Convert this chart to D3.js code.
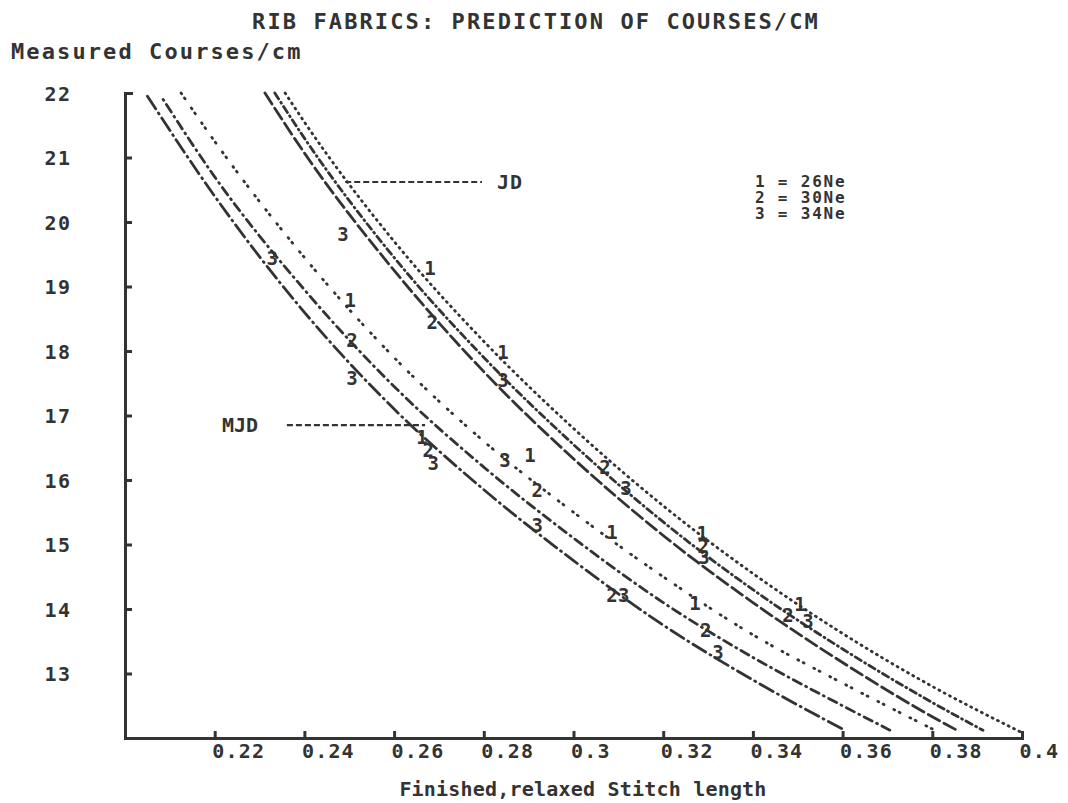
<!DOCTYPE html>
<html>
<head>
<meta charset="utf-8">
<script src="https://cdn.jsdelivr.net/npm/d3@7/dist/d3.min.js"></script>
<style>
  html, body { margin: 0; padding: 0; background: #fff; }
  text { font-family: "DejaVu Sans Mono", "Liberation Mono", monospace; font-weight: bold; fill: #333; }
</style>
</head>
<body>
<svg id="chart" width="1068" height="803"></svg>
<script>
// ---------- data ----------
const titleText = "RIB FABRICS: PREDICTION OF COURSES/CM";
const yTitle = "Measured Courses/cm";
const xTitle = "Finished,relaxed Stitch length";

const xTicks = [0.22, 0.24, 0.26, 0.28, 0.30, 0.32, 0.34, 0.36, 0.38, 0.40];
const yTicks = [13, 14, 15, 16, 17, 18, 19, 20, 21, 22];

// predicted curves (stitch length, courses/cm)
const jd1X  = [0.2357, 0.24, 0.26, 0.28, 0.30, 0.32, 0.34, 0.36, 0.38, 0.3995];
const jd1Y  = [22.0, 21.55, 19.7, 18.15, 16.8, 15.6, 14.55, 13.62, 12.8, 12.1];
const jd2X  = [0.2334, 0.24, 0.26, 0.28, 0.30, 0.32, 0.34, 0.36, 0.38, 0.3913];
const jd2Y  = [22.0, 21.3, 19.45, 17.9, 16.55, 15.35, 14.3, 13.38, 12.55, 12.12];
const jd3X  = [0.2312, 0.24, 0.26, 0.28, 0.30, 0.32, 0.34, 0.36, 0.38, 0.3855];
const jd3Y  = [22.0, 21.07, 19.25, 17.68, 16.33, 15.14, 14.1, 13.17, 12.33, 12.12];
const mjd1X = [0.2125, 0.22, 0.24, 0.26, 0.28, 0.30, 0.32, 0.34, 0.36, 0.3806];
const mjd1Y = [22.0, 21.25, 19.45, 17.9, 16.6, 15.5, 14.5, 13.6, 12.85, 12.12];
const mjd2X = [0.2085, 0.22, 0.24, 0.26, 0.28, 0.30, 0.32, 0.34, 0.36, 0.3706];
const mjd2Y = [21.9, 20.7, 18.95, 17.45, 16.2, 15.1, 14.1, 13.25, 12.5, 12.12];
const mjd3X = [0.2050, 0.22, 0.24, 0.26, 0.28, 0.30, 0.32, 0.34, 0.3605];
const mjd3Y = [21.95, 20.4, 18.6, 17.1, 15.85, 14.75, 13.75, 12.9, 12.12];

// measured points, plotted as yarn-count symbols
const ptSym = ["3","1","2","1","3","2","3","1","2","3","1","2","3",
               "3","1","2","3","1","2","3","3","1","2","3","1","2","3","1","2","3"];
const ptX = [0.2486,0.2680,0.2685,0.2843,0.2843,0.3070,0.3117,0.3287,0.3289,0.3291,0.3505,0.3478,0.3523,
             0.2328,0.2502,0.2506,0.2506,0.2662,0.2676,0.2687,0.2847,0.2903,0.2919,0.2919,0.3086,0.3086,0.3112,0.3271,0.3295,0.3322];
const ptY = [19.81,19.29,18.45,17.98,17.55,16.20,15.88,15.17,14.98,14.80,14.08,13.91,13.81,
             19.44,18.79,18.17,17.58,16.66,16.47,16.26,16.31,16.39,15.84,15.30,15.19,14.22,14.22,14.09,13.67,13.33];

const legendLines = ["1 = 26Ne", "2 = 30Ne", "3 = 34Ne"];
const groupNames = ["JD", "MJD"];
const groupLeaderX = [[0.2491, 0.2796], [0.2361, 0.2669]];
const groupLeaderY = [20.62, 16.85];

// ---------- drawing ----------
const ink = "#333";
const svg = d3.select("#chart");
const x = d3.scaleLinear().domain([0.2, 0.4]).range([125, 1022]);
const y = d3.scaleLinear().domain([12, 22]).range([738, 93]);

// titles
svg.append("text").attr("x", 536).attr("y", 29).attr("text-anchor", "middle")
  .style("font-size", "22px").style("letter-spacing", "2.1px").text(titleText);
svg.append("text").attr("x", 11).attr("y", 59)
  .style("font-size", "22px").style("letter-spacing", "2.1px").text(yTitle);
svg.append("text").attr("x", 583).attr("y", 796).attr("text-anchor", "middle")
  .style("font-size", "20px").style("letter-spacing", "0.2px").text(xTitle);

// axes
const yAxis = d3.axisLeft(y).tickValues(yTicks).tickSizeInner(-7).tickSizeOuter(-8).tickFormat(d3.format("d"));
const gy = svg.append("g").attr("transform", "translate(125,0)").call(yAxis);
gy.selectAll("path, line").attr("stroke", ink).attr("stroke-width", 3);
gy.selectAll("text").attr("x", -67).attr("dy", "0.36em").attr("text-anchor", "middle")
  .style("font-size", "20px").style("letter-spacing", "1.5px").style("fill", ink).attr("fill", null);

const xAxis = d3.axisBottom(x).tickValues(xTicks).tickSizeInner(-7).tickSizeOuter(-7).tickFormat(d => String(+d.toFixed(2)));
const gx = svg.append("g").attr("transform", "translate(0,738)").call(xAxis);
gx.selectAll("path, line").attr("stroke", ink).attr("stroke-width", 3);
gx.selectAll(".tick line").filter(d => d === 0.4).remove();
gx.selectAll("text").attr("y", 20).attr("dy", 0).attr("x", -3).attr("text-anchor", "start")
  .style("font-size", "20px").style("letter-spacing", "1.2px").style("fill", ink).attr("fill", null);

// curves
const curves = [
  {xs: jd1X,  ys: jd1Y,  dash: "1,5"},
  {xs: jd2X,  ys: jd2Y,  dash: "7,4,1,4"},
  {xs: jd3X,  ys: jd3Y,  dash: "13,5"},
  {xs: mjd1X, ys: mjd1Y, dash: "1,5,1,11"},
  {xs: mjd2X, ys: mjd2Y, dash: "1,5,9,5"},
  {xs: mjd3X, ys: mjd3Y, dash: "15,5,1,5"}
];
const line = d3.line().x(d => x(d[0])).y(d => y(d[1])).curve(d3.curveMonotoneX);
svg.append("g").selectAll("path").data(curves).join("path")
  .attr("d", c => line(c.xs.map((v, i) => [v, c.ys[i]])))
  .attr("fill", "none").attr("stroke", ink).attr("stroke-width", 2.8)
  .attr("stroke-linecap", "round").attr("stroke-dasharray", c => c.dash);

// measured symbols
svg.append("g").selectAll("text").data(ptSym).join("text")
  .attr("x", (d, i) => x(ptX[i])).attr("y", (d, i) => y(ptY[i])).attr("dy", "0.36em")
  .attr("text-anchor", "middle").style("font-size", "19px").text(d => d);

// group leaders
groupNames.forEach((name, i) => {
  svg.append("line").attr("x1", x(groupLeaderX[i][0])).attr("x2", x(groupLeaderX[i][1]))
    .attr("y1", y(groupLeaderY[i])).attr("y2", y(groupLeaderY[i]))
    .attr("stroke", ink).attr("stroke-width", 2.2).attr("stroke-dasharray", "6,3");
});
svg.append("text").attr("x", x(groupLeaderX[0][1]) + 15).attr("y", y(groupLeaderY[0])).attr("dy", "0.36em")
  .style("font-size", "20px").style("letter-spacing", "1px").text(groupNames[0]);
svg.append("text").attr("x", x(groupLeaderX[1][0]) - 65).attr("y", y(groupLeaderY[1])).attr("dy", "0.36em")
  .style("font-size", "20px").style("letter-spacing", "0px").text(groupNames[1]);

// legend
svg.append("g").selectAll("text").data(legendLines).join("text")
  .attr("x", 755).attr("y", (d, i) => 187 + i * 16)
  .style("font-size", "16px").style("letter-spacing", "1.8px").text(d => d);
</script>
</body>
</html>
